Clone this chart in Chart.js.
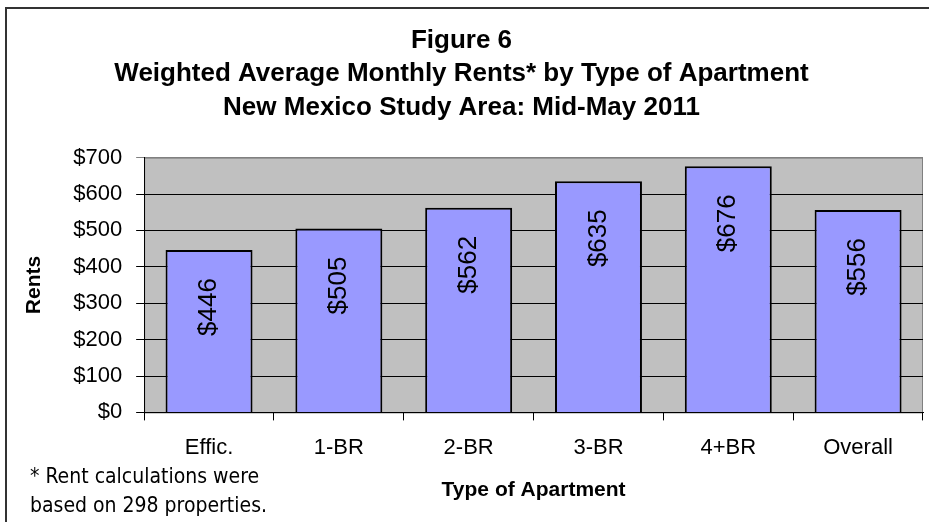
<!DOCTYPE html>
<html>
<head>
<meta charset="utf-8">
<script src="https://cdn.jsdelivr.net/npm/chart.js@4.4.0/dist/chart.umd.min.js"></script>
<style>
  body { margin: 0; background: #fff; }
  #wrap { position: relative; width: 929px; height: 522px; overflow: hidden; }
  #frame { position: absolute; left: 5px; top: 7px; width: 960px; height: 560px; border: 2px solid #333; box-sizing: border-box; }
  #rents-chart { position: absolute; left: 0; top: 0; }
  #note { position: absolute; left: 30px; top: 462px; font: 21px 'DejaVu Sans Condensed', 'DejaVu Sans', sans-serif; line-height: 29px; color: #000; }
</style>
</head>
<body>
<div id="wrap">
  <div id="frame"></div>
  <canvas id="rents-chart" width="929" height="522"></canvas>
  <div id="note">* Rent calculations were<br>based on 298 properties.</div>
</div>
<script>
var aptTypes = ['Effic.', '1-BR', '2-BR', '3-BR', '4+BR', 'Overall'];
var rents = [446, 505, 562, 635, 676, 556];
var titleLines = ['Figure 6', 'Weighted Average Monthly Rents* by Type of Apartment', 'New Mexico Study Area: Mid-May 2011'];

var fontFam = "'Liberation Sans', Arial, sans-serif";

// grey plot area + grey outline
var plotBg = {
  id: 'plotBg',
  beforeDraw: function (chart) {
    var a = chart.chartArea;
    var ctx = chart.ctx;
    ctx.save();
    ctx.fillStyle = '#c0c0c0';
    ctx.fillRect(a.left, a.top, a.right - a.left, a.bottom - a.top);
    ctx.strokeStyle = '#808080';
    ctx.lineWidth = 1;
    ctx.strokeRect(a.left + 0.5, a.top + 0.5, a.right - a.left - 1, a.bottom - a.top);
    ctx.restore();
  }
};

// rotated value labels inside the bars
var barLabels = {
  id: 'barLabels',
  afterDatasetsDraw: function (chart) {
    var ctx = chart.ctx;
    var meta = chart.getDatasetMeta(0);
    ctx.save();
    ctx.fillStyle = '#000';
    ctx.font = '26px ' + fontFam;
    ctx.textAlign = 'right';
    ctx.textBaseline = 'middle';
    meta.data.forEach(function (bar, i) {
      ctx.save();
      ctx.translate(bar.x, bar.y + 28);
      ctx.rotate(-Math.PI / 2);
      ctx.fillText('$' + rents[i], 0, 0);
      ctx.restore();
    });
    ctx.restore();
  }
};

var ctxR = document.getElementById('rents-chart').getContext('2d');
var rentChart = new Chart(ctxR, {
  type: 'bar',
  data: {
    labels: aptTypes,
    datasets: [{
      data: rents,
      backgroundColor: '#9999ff',
      borderColor: '#000',
      borderWidth: 2,
      barPercentage: 0.67,
      categoryPercentage: 1
    }]
  },
  options: {
    responsive: false,
    animation: false,
    layout: { padding: { left: 0, right: 6, top: 0, bottom: 1 } },
    plugins: {
      legend: { display: false },
      tooltip: { enabled: false },
      title: {
        display: true,
        text: titleLines,
        color: '#000',
        font: { family: fontFam, size: 26, weight: 'bold', lineHeight: 1.29 },
        padding: { top: 24, bottom: 33 }
      }
    },
    scales: {
      x: {
        grid: { display: true, drawOnChartArea: false, color: '#000', tickLength: 8 },
        border: { color: '#000', width: 1 },
        ticks: { color: '#000', font: { family: fontFam, size: 22 }, padding: 14 },
        title: {
          display: true,
          text: 'Type of Apartment',
          color: '#000',
          font: { family: fontFam, size: 21, weight: 'bold' },
          padding: { top: 3, bottom: 18 }
        }
      },
      y: {
        min: 0,
        max: 700,
        grid: {
          color: function (c) { return c.tick && c.tick.value === 700 ? '#808080' : '#000'; },
          tickLength: 8
        },
        border: { color: '#000', width: 1 },
        ticks: {
          stepSize: 100,
          color: '#000',
          padding: 14,
          font: { family: fontFam, size: 22 },
          callback: function (v) { return '$' + v; }
        },
        title: {
          display: true,
          text: 'Rents',
          color: '#000',
          font: { family: fontFam, size: 21, weight: 'bold' },
          padding: { top: 22, bottom: 12 }
        }
      }
    }
  },
  plugins: [plotBg, barLabels]
});
</script>
</body>
</html>
